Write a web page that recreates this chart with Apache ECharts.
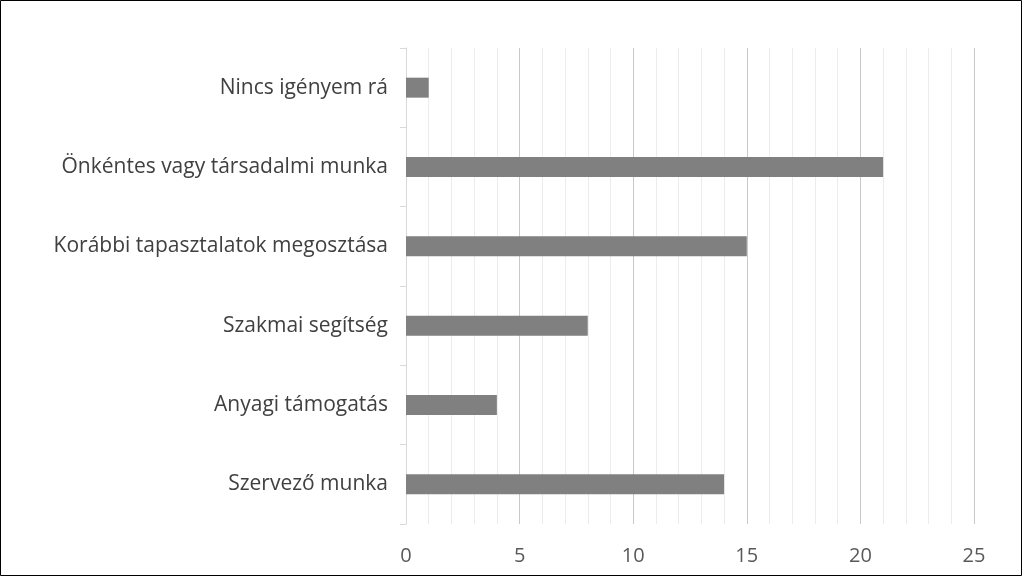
<!DOCTYPE html>
<html>
<head>
<meta charset="utf-8">
<script src="https://cdn.jsdelivr.net/npm/echarts@6/dist/echarts.min.js"></script>
<style>
html,body{margin:0;padding:0;background:#fff;}
#chart{width:1022px;height:576px;}
</style>
</head>
<body>
<div id="chart"></div>
<script>
var categories = ['Szervező munka', 'Anyagi támogatás', 'Szakmai segítség', 'Korábbi tapasztalatok megosztása', 'Önkéntes vagy társadalmi munka', 'Nincs igényem rá'];
var values = [14, 4, 8, 15, 21, 1];
var xMin = 0, xMax = 25, xInterval = 5;

var chart = echarts.init(document.getElementById('chart'));
chart.setOption({
  animation: false,
  backgroundColor: '#fff',
  graphic: [{
    type: 'rect',
    shape: {x: 0.5, y: 0.5, width: 1021, height: 575},
    style: {fill: 'none', stroke: '#000', lineWidth: 1},
    silent: true
  }],
  grid: {left: 406, right: 48, top: 48, bottom: 52, containLabel: false},
  xAxis: {
    type: 'value',
    min: xMin, max: xMax, interval: xInterval,
    axisLine: {show: false},
    axisTick: {show: false},
    axisLabel: {color: '#595959', fontSize: 20, fontFamily: 'Open Sans', margin: 22},
    splitLine: {show: true, lineStyle: {color: '#c8c8c8', width: 1}},
    minorTick: {show: false, splitNumber: 5},
    minorSplitLine: {show: true, lineStyle: {color: '#ececec', width: 1}}
  },
  yAxis: {
    type: 'category',
    data: categories,
    axisLine: {show: true, lineStyle: {color: '#d9d9d9', width: 1}},
    axisTick: {show: true, length: 6, lineStyle: {color: '#d9d9d9'}},
    axisLabel: {color: '#404040', fontSize: 21, fontFamily: 'Open Sans', margin: 18},
    splitLine: {show: false}
  },
  series: [{
    type: 'bar',
    data: values,
    barWidth: 20,
    itemStyle: {color: '#808080'}
  }]
});
</script>
</body>
</html>
